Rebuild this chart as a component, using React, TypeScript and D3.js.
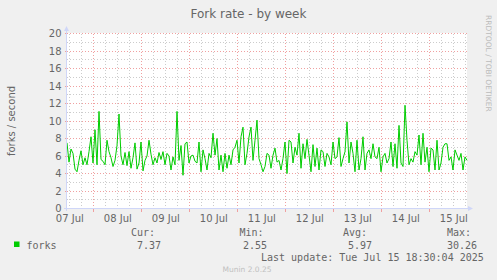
import React from 'react';
import * as d3 from 'd3';

const W = 497;
const H = 280;

const title = 'Fork rate - by week';
const yTitle = 'forks / second';
const sideText = 'RRDTOOL / TOBI OETIKER';
const yTickValues = [0, 2, 4, 6, 8, 10, 12, 14, 16, 18, 20];
const yMinorValues = [1, 3, 5, 7, 9, 11, 13, 15, 17, 19];
const dayLabels = ['07 Jul', '08 Jul', '09 Jul', '10 Jul', '11 Jul', '12 Jul', '13 Jul', '14 Jul', '15 Jul'];

// hourly samples, forks per second
const forks = [
  7.5, 5.3, 6.8, 6.3, 4.5, 4.2, 5.5, 6.6, 5.0, 5.8, 5.0, 6.5, 8.2, 5.2, 9.0, 5.0, 11.1, 5.6, 5.4, 5.0,
  7.8, 6.5, 5.8, 4.8, 5.5, 7.2, 10.8, 6.0, 5.0, 6.4, 4.9, 6.5, 4.6, 5.8, 7.5, 4.5, 5.2, 7.6, 4.3, 5.5,
  6.0, 7.8, 6.2, 5.0, 5.8, 5.2, 6.4, 5.6, 6.5, 5.0, 6.3,
  6.0, 4.4, 5.9, 5.0, 11.1, 5.5, 7.2, 3.8, 7.4, 7.6, 5.2, 6.0, 6.1, 5.4, 5.2, 7.6, 4.2, 6.7, 5.7, 4.4,
  6.3, 5.8, 8.6, 6.1, 8.0, 4.4, 6.1, 4.2, 6.3, 4.6, 6.1, 5.0, 6.7, 7.0, 7.8, 5.2, 8.2, 9.3, 5.0, 6.3,
  8.2, 9.3, 5.5, 7.8, 10.1, 5.7, 5.0, 4.2, 4.8, 6.3, 6.1,
  4.6, 6.1, 6.9, 5.3, 5.5, 4.4, 5.7, 7.6, 4.0, 7.8, 7.6, 5.2, 7.0, 6.1, 8.6, 4.6, 7.4, 5.7, 7.9, 6.1,
  4.2, 7.3, 4.8, 6.9, 4.4, 6.7, 6.5, 4.8, 6.3, 5.9, 5.0, 7.6, 5.7, 5.9, 8.1, 4.8, 5.7, 6.5, 9.9, 5.2,
  7.6, 6.3, 4.2, 7.8, 4.4, 5.7, 8.2, 4.4, 6.3, 6.7, 5.7,
  7.4, 5.9, 5.7, 7.0, 4.2, 5.9, 6.3, 5.2, 5.7, 7.6, 4.8, 7.4, 4.6, 9.5, 5.2, 4.8, 11.8, 7.8, 5.0, 5.7,
  5.3, 6.5, 6.1, 8.4, 5.0, 8.6, 5.3, 7.0, 4.2, 6.9, 6.7, 4.4, 7.8, 4.4, 5.2, 7.0, 7.4, 7.4, 5.5, 5.9,
  4.4, 6.7, 6.1, 5.5, 6.3, 4.4, 5.9, 5.5,
];

const legendName = 'forks';
const legendCur = '7.37';
const legendMin = '2.55';
const legendAvg = '5.97';
const legendMax = '30.26';
const lastUpdate = 'Last update: Tue Jul 15 18:30:04 2025';
const version = 'Munin 2.0.25';

const startTime = Date.UTC(2025, 6, 7, 11, 6);
const hour = 3600 * 1000;

const C = {
  back: '#f0f0f0',
  canvas: '#ffffff',
  font: '#666666',
  axis: '#cfd6f8',
  grid: '#cccccc',
  mgrid: '#f0a0a0',
  line: '#00cc00',
};

export default function App() {
  const left = 67;
  const right = 467;
  const top = 33.5;
  const bottom = 208.5;

  const times = forks.map((_, i) => new Date(startTime + i * hour));
  const x = d3.scaleUtc().domain([new Date(startTime), new Date(startTime + 200 * hour)]).range([left, right]);
  const y = d3.scaleLinear().domain([0, 20]).range([bottom, top]);

  const line = d3
    .line<number>()
    .x((_, i) => x(times[i]))
    .y((d) => y(d));

  const days = d3.utcDay.range(new Date(startTime), new Date(startTime + 200 * hour));
  const sixHours = d3.utcHour
    .every(6)!
    .range(new Date(startTime), new Date(startTime + 200 * hour))
    .filter((d) => d.getUTCHours() !== 0);
  const noons = d3.utcHour
    .every(12)!
    .range(new Date(startTime - 12 * hour), new Date(startTime + 200 * hour))
    .filter((d) => d.getUTCHours() === 12);

  const px = (v: number) => Math.round(v) + 0.5;
  const py = (v: number) => Math.floor(y(v)) + 0.5;

  const sans = '"DejaVu Sans", sans-serif';
  const mono = '"DejaVu Sans Mono", monospace';

  return (
    <svg
      width={W}
      height={H}
      style={{ position: 'fixed', left: 0, top: 0, background: C.back }}
      xmlns="http://www.w3.org/2000/svg"
    >
      <rect x={0} y={0} width={W} height={H} fill={C.back} />
      <rect x={left} y={top - 0.5} width={right - left} height={bottom - top + 0.5} fill={C.canvas} />

      {/* minor grid */}
      <g stroke={C.grid} strokeWidth={1} strokeDasharray="1,2" shapeRendering="crispEdges">
        {yMinorValues.map((v) => (
          <line key={'ym' + v} x1={left} x2={right} y1={py(v)} y2={py(v)} />
        ))}
        {sixHours.map((d) => (
          <line key={'xm' + d.getTime()} x1={px(x(d))} x2={px(x(d))} y1={top} y2={bottom} />
        ))}
      </g>
      {/* major grid */}
      <g stroke={C.mgrid} strokeWidth={1} strokeDasharray="1,2" shapeRendering="crispEdges">
        {yTickValues
          .filter((v) => v > 0)
          .map((v) => (
            <line key={'yM' + v} x1={left} x2={right} y1={py(v)} y2={py(v)} />
          ))}
        {days.map((d) => (
          <line key={'xM' + d.getTime()} x1={px(x(d))} x2={px(x(d))} y1={top} y2={bottom} />
        ))}
      </g>
      {/* major ticks outside */}
      <g stroke={C.mgrid} strokeWidth={1} shapeRendering="crispEdges">
        {yTickValues.map((v) => (
          <line key={'yt' + v} x1={left - 2} x2={left} y1={py(v)} y2={py(v)} />
        ))}
        {days.map((d) => (
          <line key={'xt' + d.getTime()} x1={px(x(d))} x2={px(x(d))} y1={bottom} y2={bottom + 3} />
        ))}
      </g>

      {/* y tick labels */}
      <g fill={C.font} fontFamily={sans} fontSize={10} textAnchor="end">
        {yTickValues.map((v) => (
          <text key={'yl' + v} x={61.5} y={py(v) + 3}>
            {v}
          </text>
        ))}
      </g>
      {/* x labels */}
      <g fill={C.font} fontFamily={sans} fontSize={10} textAnchor="middle">
        {noons.map((d, i) => (
          <text key={'xl' + i} x={x(d) + 1} y={221.5}>
            {dayLabels[i]}
          </text>
        ))}
      </g>

      {/* data */}
      <path d={line(forks) || ''} fill="none" stroke={C.line} strokeWidth={1} />

      {/* axes */}
      <g stroke={C.axis} strokeWidth={1} shapeRendering="crispEdges">
        <line x1={left - 0.5} x2={left - 0.5} y1={bottom + 2} y2={30} />
        <line x1={left - 3} x2={right + 2} y1={bottom} y2={bottom} />
      </g>
      <path d={`M${left - 3},${31} L${left - 0.5},${26} L${left + 2},${31} Z`} fill={C.axis} />
      <path d={`M${right + 1},${bottom - 2.5} L${right + 6},${bottom} L${right + 1},${bottom + 2.5} Z`} fill={C.axis} />

      {/* titles */}
      <text x={248.5} y={17.5} fill={C.font} fontFamily={sans} fontSize={12} textAnchor="middle">
        {title}
      </text>
      <text
        transform={`translate(15,${(top + bottom) / 2}) rotate(-90)`}
        fill={C.font}
        fontFamily={sans}
        fontSize={10}
        textAnchor="middle"
      >
        {yTitle}
      </text>
      <text transform="translate(486,15) rotate(90)" fill="#bbbbbb" fontFamily={sans} fontSize={7.5}>
        {sideText}
      </text>

      {/* legend */}
      <rect x={14} y={241.5} width={5.5} height={5.5} fill={C.line} />
      <g fill={C.font} fontFamily={mono} fontSize={10}>
        <text x={26.5} y={249}>{legendName}</text>
        <text x={131} y={236}>Cur:</text>
        <text x={137} y={249}>{legendCur}</text>
        <text x={239.5} y={236}>Min:</text>
        <text x={243} y={249}>{legendMin}</text>
        <text x={343} y={236}>Avg:</text>
        <text x={348} y={249}>{legendAvg}</text>
        <text x={447} y={236}>Max:</text>
        <text x={447} y={249}>{legendMax}</text>
        <text x={261} y={261}>{lastUpdate}</text>
      </g>
      <text x={222.5} y={272} fill="#c0c0c0" fontFamily={sans} fontSize={7.5}>
        {version}
      </text>
    </svg>
  );
}
